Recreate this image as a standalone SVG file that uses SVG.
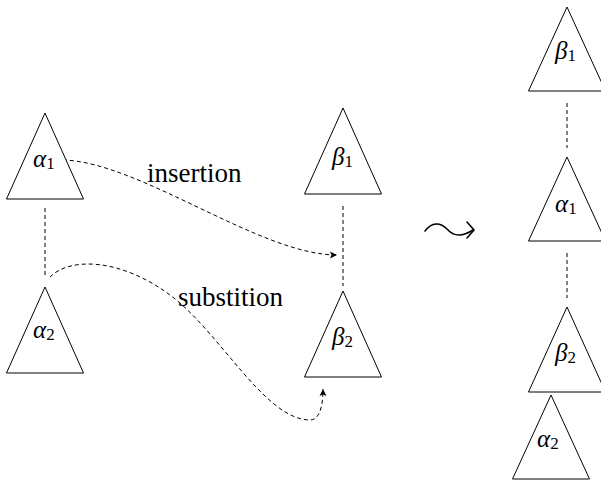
<svg xmlns="http://www.w3.org/2000/svg" width="601" height="481" viewBox="0 0 601 481">
<style>
.tri{fill:#fff;stroke:#000;stroke-width:1}
.dash{fill:none;stroke:#000;stroke-width:1;stroke-dasharray:4 3}
text{font-family:'Liberation Serif','DejaVu Serif',serif;fill:#000}
.lbl{font-size:25px}
.g{font-style:italic}
.word{font-size:27px}
</style>
<defs>
<marker id="ah" markerUnits="userSpaceOnUse" markerWidth="10" markerHeight="10" refX="8" refY="5" orient="auto">
<path d="M1,1.5 L8,5 L1,8.5 L2.5,5 Z" fill="#000"/>
</marker>
</defs>
<g id="connectors">
<line class="dash" x1="45" y1="208" x2="45" y2="278"/>
<line class="dash" x1="343" y1="206" x2="343" y2="286"/>
<line class="dash" x1="567" y1="103" x2="567" y2="148"/>
<line class="dash" x1="567" y1="253" x2="567" y2="298"/>
<path id="insertion" class="dash" d="M63,160 C140,162 260,255 337,255" marker-end="url(#ah)"/>
<path id="substitution" class="dash" d="M50,277 C70,257 120,258 170,295 C220,332 265,420 310,420 C318,420 323,410 323,389" marker-end="url(#ah)"/>
<g id="leadsto" fill="none" stroke="#000" stroke-width="1.6" stroke-linecap="round">
<path d="M425,231 C432,222 440,222 447,229 C454,237 462,237 473,230"/>
<path d="M467,222 L474,230 L467,238"/>
</g>
</g>
<g id="alpha1-left">
<polygon class="tri" points="45,113 6.5,199 83.5,199"/>
<text class="lbl" x="33" y="167"><tspan class="g">α</tspan><tspan font-size="17" dy="2">1</tspan></text>
</g>
<g id="alpha2-left">
<polygon class="tri" points="45,287 6.5,373 83.5,373"/>
<text class="lbl" x="33" y="338"><tspan class="g">α</tspan><tspan font-size="17" dy="2">2</tspan></text>
</g>
<g id="beta1-left">
<polygon class="tri" points="343,108 304.5,194 381.5,194"/>
<text class="lbl" x="332" y="165"><tspan class="g">β</tspan><tspan font-size="17" dy="2">1</tspan></text>
</g>
<g id="beta2-left">
<polygon class="tri" points="343,291 304.5,377 381.5,377"/>
<text class="lbl" x="332" y="345"><tspan class="g">β</tspan><tspan font-size="17" dy="2">2</tspan></text>
</g>
<g id="label-insertion">
<text class="word" x="147" y="182">insertion</text>
</g>
<g id="label-substition">
<text class="word" x="178" y="306">substition</text>
</g>
<g id="beta1-right">
<polygon class="tri" points="567,7 528.5,91 605.5,91"/>
<text class="lbl" x="555" y="59"><tspan class="g">β</tspan><tspan font-size="17" dy="2">1</tspan></text>
</g>
<g id="alpha1-right">
<polygon class="tri" points="567,157 528.5,241 605.5,241"/>
<text class="lbl" x="555" y="212"><tspan class="g">α</tspan><tspan font-size="17" dy="2">1</tspan></text>
</g>
<g id="beta2-right">
<polygon class="tri" points="567,307 528.5,392 605.5,392"/>
<text class="lbl" x="555" y="361"><tspan class="g">β</tspan><tspan font-size="17" dy="2">2</tspan></text>
</g>
<g id="alpha2-right">
<polygon class="tri" points="551,395 512.5,479 589.5,479"/>
<text class="lbl" x="537" y="447"><tspan class="g">α</tspan><tspan font-size="17" dy="2">2</tspan></text>
</g>
</svg>
